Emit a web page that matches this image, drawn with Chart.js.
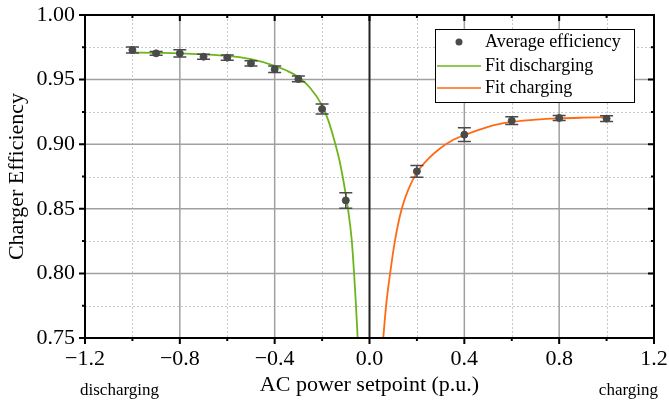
<!DOCTYPE html>
<html>
<head>
<meta charset="utf-8">
<script src="https://cdn.jsdelivr.net/npm/chart.js@4.4.0/dist/chart.umd.min.js"></script>
<style>
  html, body { margin: 0; padding: 0; background: #fff; }
  #wrap { width: 669px; height: 407px; }
</style>
</head>
<body>
<div id="wrap"><canvas id="effChart" width="669" height="407"></canvas></div>
<script>
// measured points
const setpoints = [-1.0, -0.9, -0.8, -0.7, -0.6, -0.5, -0.4, -0.3, -0.2, -0.1, 0.2, 0.4, 0.6, 0.8, 1.0];
const avgEfficiency = [0.9729, 0.9703, 0.9703, 0.9677, 0.9670, 0.9626, 0.9580, 0.9505, 0.9272, 0.8565, 0.8790, 0.9074, 0.9182, 0.9203, 0.9198];
const errEfficiency = [0.0023, 0.0015, 0.0028, 0.0020, 0.0020, 0.0020, 0.0025, 0.0022, 0.0039, 0.0060, 0.0046, 0.0054, 0.0030, 0.0020, 0.0023];

// fitted curves
const fitDisX = [-1.0, -0.9, -0.8, -0.7, -0.6, -0.5, -0.4, -0.35, -0.3, -0.25, -0.2, -0.175, -0.15, -0.125, -0.1, -0.09, -0.075, -0.065, -0.057, -0.05];
const fitDisY = [0.9710, 0.9707, 0.9703, 0.9695, 0.9683, 0.9658, 0.9607, 0.9570, 0.9520, 0.9435, 0.9300, 0.9190, 0.9040, 0.8860, 0.8610, 0.8490, 0.8260, 0.8000, 0.7750, 0.7500];
const fitChX = [0.058, 0.070, 0.087, 0.108, 0.136, 0.164, 0.2, 0.25, 0.3, 0.35, 0.4, 0.5, 0.6, 0.7, 0.8, 0.9, 1.0];
const fitChY = [0.750, 0.775, 0.800, 0.826, 0.850, 0.865, 0.878, 0.889, 0.897, 0.903, 0.907, 0.9135, 0.9172, 0.9190, 0.9200, 0.9205, 0.9208];

const xMajorTicks = [-1.2, -0.8, -0.4, 0.0, 0.4, 0.8, 1.2];
const xMinorTicks = [-1.0, -0.6, -0.2, 0.2, 0.6, 1.0];
const yMajorTicks = [0.75, 0.80, 0.85, 0.90, 0.95, 1.00];
const yMinorTicks = [0.775, 0.825, 0.875, 0.925, 0.975];

const serif = "'Liberation Serif', 'Times New Roman', serif";

function zip(xs, ys) {
  return xs.map((x, i) => ({ x: x, y: ys[i] }));
}

const framePlugin = {
  id: 'frame',
  beforeDatasetsDraw(chart) {
    const { ctx, chartArea: a, scales: { x, y } } = chart;
    ctx.save();
    ctx.lineWidth = 1;
    // minor grid, dotted
    ctx.strokeStyle = '#c8c8c8';
    ctx.setLineDash([2, 2]);
    ctx.beginPath();
    xMinorTicks.forEach((v) => {
      const px = Math.round(x.getPixelForValue(v)) + 0.5;
      ctx.moveTo(px, a.top); ctx.lineTo(px, a.bottom);
    });
    yMinorTicks.forEach((v) => {
      const py = Math.round(y.getPixelForValue(v)) + 0.5;
      ctx.moveTo(a.left, py); ctx.lineTo(a.right, py);
    });
    ctx.stroke();
    // major grid, solid
    ctx.setLineDash([]);
    ctx.strokeStyle = '#a0a0a0';
    ctx.lineWidth = 1.5;
    ctx.beginPath();
    xMajorTicks.forEach((v) => {
      if (v === 0) return;
      const px = x.getPixelForValue(v);
      ctx.moveTo(px, a.top); ctx.lineTo(px, a.bottom);
    });
    yMajorTicks.forEach((v) => {
      const py = y.getPixelForValue(v);
      ctx.moveTo(a.left, py); ctx.lineTo(a.right, py);
    });
    ctx.stroke();
    // zero line
    ctx.strokeStyle = '#222';
    ctx.lineWidth = 2;
    ctx.beginPath();
    const zx = x.getPixelForValue(0);
    ctx.moveTo(zx, a.top); ctx.lineTo(zx, a.bottom);
    ctx.stroke();
    ctx.restore();
  },
  beforeDatasetDraw(chart, args) {
    if (args.index !== 0) return;
    const { ctx, scales: { x, y } } = chart;
    ctx.save();
    ctx.strokeStyle = '#4a4a4a';
    ctx.lineWidth = 1.5;
    ctx.beginPath();
    setpoints.forEach((sx, i) => {
      const px = x.getPixelForValue(sx);
      const top = y.getPixelForValue(avgEfficiency[i] + errEfficiency[i]);
      const bot = y.getPixelForValue(avgEfficiency[i] - errEfficiency[i]);
      ctx.moveTo(px, top); ctx.lineTo(px, bot);
      ctx.moveTo(px - 6.5, top); ctx.lineTo(px + 6.5, top);
      ctx.moveTo(px - 6.5, bot); ctx.lineTo(px + 6.5, bot);
    });
    ctx.stroke();
    ctx.restore();
  },
  afterDatasetsDraw(chart) {
    const { ctx, chartArea: a, scales: { x, y } } = chart;
    ctx.save();
    ctx.strokeStyle = '#000';
    ctx.lineWidth = 2;
    ctx.strokeRect(a.left, a.top, a.right - a.left, a.bottom - a.top);
    ctx.beginPath();
    // bottom / left ticks outward, top / right inward
    xMajorTicks.forEach((v) => {
      const px = x.getPixelForValue(v);
      ctx.moveTo(px, a.bottom); ctx.lineTo(px, a.bottom + 6);
      ctx.moveTo(px, a.top); ctx.lineTo(px, a.top + 6);
    });
    xMinorTicks.forEach((v) => {
      const px = x.getPixelForValue(v);
      ctx.moveTo(px, a.bottom); ctx.lineTo(px, a.bottom + 3);
      ctx.moveTo(px, a.top); ctx.lineTo(px, a.top + 3);
    });
    yMajorTicks.forEach((v) => {
      const py = y.getPixelForValue(v);
      ctx.moveTo(a.left - 6, py); ctx.lineTo(a.left, py);
      ctx.moveTo(a.right - 6, py); ctx.lineTo(a.right, py);
    });
    yMinorTicks.forEach((v) => {
      const py = y.getPixelForValue(v);
      ctx.moveTo(a.left - 3, py); ctx.lineTo(a.left, py);
      ctx.moveTo(a.right - 3, py); ctx.lineTo(a.right, py);
    });
    ctx.stroke();

    // direction notes under the axis
    ctx.fillStyle = '#000';
    ctx.font = '17px ' + serif;
    ctx.textBaseline = 'middle';
    ctx.textAlign = 'left';
    ctx.fillText('discharging', 80, 391);
    ctx.textAlign = 'right';
    ctx.fillText('charging', 658, 391);
    ctx.restore();
  },
  afterDraw(chart) {
    const { ctx } = chart;
    const ds = chart.data.datasets;
    const bx = 435, by = 29, bw = 199, bh = 73;
    ctx.save();
    ctx.fillStyle = '#fff';
    ctx.fillRect(bx, by, bw, bh);
    ctx.strokeStyle = '#000';
    ctx.lineWidth = 1;
    ctx.strokeRect(bx + 0.5, by + 0.5, bw, bh);
    const rows = [42, 66, 88];
    ctx.font = '18px ' + serif;
    ctx.textBaseline = 'middle';
    ctx.textAlign = 'left';
    ds.forEach((d, i) => {
      const ry = rows[i];
      if (i === 0) {
        ctx.fillStyle = d.backgroundColor;
        ctx.beginPath();
        ctx.arc(459, ry, 3.5, 0, Math.PI * 2);
        ctx.fill();
      } else {
        ctx.strokeStyle = d.borderColor;
        ctx.lineWidth = 1.5;
        ctx.beginPath();
        ctx.moveTo(437, ry); ctx.lineTo(481, ry);
        ctx.stroke();
      }
      ctx.fillStyle = '#000';
      ctx.fillText(d.label, 485, ry);
    });
    ctx.restore();
  }
};

new Chart(document.getElementById('effChart'), {
  type: 'scatter',
  data: {
    datasets: [{
      label: 'Average efficiency',
      data: zip(setpoints, avgEfficiency),
      backgroundColor: '#4a4a4a',
      borderColor: '#4a4a4a',
      pointRadius: 3.5,
      showLine: false,
      order: 0
    }, {
      label: 'Fit discharging',
      type: 'line',
      data: zip(fitDisX, fitDisY),
      borderColor: '#6cb51a',
      borderWidth: 1.8,
      pointRadius: 0,
      cubicInterpolationMode: 'monotone',
      fill: false,
      order: 1
    }, {
      label: 'Fit charging',
      type: 'line',
      data: zip(fitChX, fitChY),
      borderColor: '#ff6a14',
      borderWidth: 1.8,
      pointRadius: 0,
      cubicInterpolationMode: 'monotone',
      fill: false,
      order: 2
    }]
  },
  options: {
    responsive: false,
    animation: false,
    layout: { padding: { top: 15, right: 15, left: 0, bottom: 0 } },
    plugins: {
      legend: { display: false },
      tooltip: { enabled: false }
    },
    scales: {
      x: {
        type: 'linear',
        min: -1.2,
        max: 1.2,
        afterBuildTicks: (s) => { s.ticks = xMajorTicks.map((v) => ({ value: v })); },
        afterFit: (s) => { s.height = 69; s.paddingLeft = 0; s.paddingRight = 0; },
        grid: { display: false, drawTicks: false },
        border: { display: false },
        ticks: {
          padding: 8,
          color: '#000',
          font: { family: serif, size: 22 },
          callback: (v) => (v < 0 ? '\u2212' : '') + Math.abs(v).toFixed(1)
        },
        title: {
          display: true,
          text: 'AC power setpoint (p.u.)',
          color: '#000',
          font: { family: serif, size: 22 },
          padding: { top: 0, bottom: 9 }
        }
      },
      y: {
        type: 'linear',
        min: 0.75,
        max: 1.0,
        afterBuildTicks: (s) => { s.ticks = yMajorTicks.map((v) => ({ value: v })); },
        afterFit: (s) => { s.width = 85; s.paddingTop = 0; s.paddingBottom = 0; },
        grid: { display: false, drawTicks: false },
        border: { display: false },
        ticks: {
          padding: 10,
          color: '#000',
          font: { family: serif, size: 22 },
          callback: (v) => v.toFixed(2)
        },
        title: {
          display: true,
          text: 'Charger Efficiency',
          color: '#000',
          font: { family: serif, size: 22 },
          padding: { top: 4, bottom: 0 }
        }
      }
    }
  },
  plugins: [framePlugin]
});
</script>
</body>
</html>
